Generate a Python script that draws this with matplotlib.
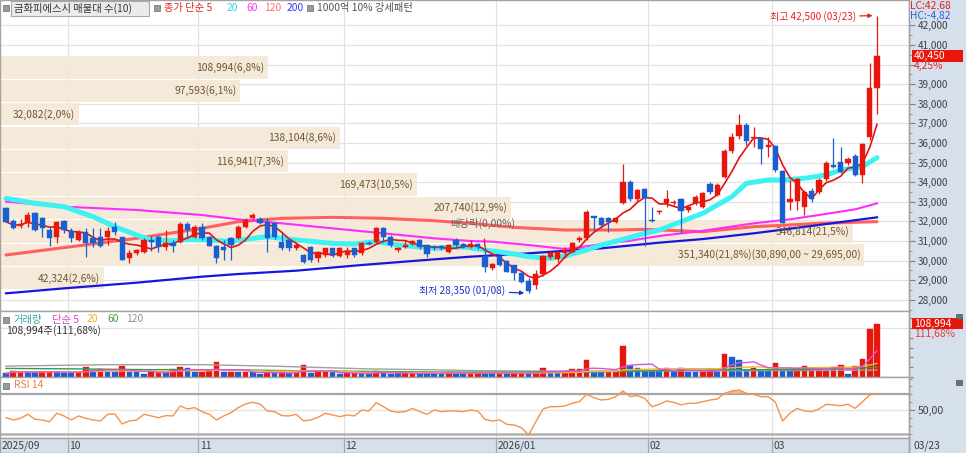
import numpy as np
import pandas as pd
import matplotlib
matplotlib.use("Agg")
import matplotlib.pyplot as plt
from matplotlib.patches import Rectangle
from matplotlib.transforms import blended_transform_factory

plt.rcParams['font.family'] = ['Noto Sans CJK KR', 'DejaVu Sans']

# ---------------- data ----------------
opens = [32666, 32037, 31765, 31935, 32411, 32156, 31561, 31221, 32020, 31527,
         31051, 31476, 31136, 31221, 31187, 31731, 31187, 30115, 30405, 30456,
         31051, 31221, 30711, 30881, 30966, 31850, 31221, 31731, 31187, 30745,
         30711, 31136, 31136, 31731, 32156, 32105, 31986, 31901, 30966, 31051,
         30626, 30285, 30711, 30115, 30285, 30626, 30251, 30285, 30626, 30371,
         30915, 30966, 31646, 31221, 30540, 30677, 30847, 31051, 30796, 30711,
         30745, 30456, 31051, 30830, 30677, 30830, 30235, 29605, 30235, 29980,
         29775, 29350, 28976, 28755, 29316, 30200, 30065, 30371, 30456, 31051,
         31136, 32276, 32156, 32156, 31986, 32956, 34027, 33126, 33636, 32071,
         32463, 32956, 32922, 33126, 32582, 32922, 32752, 33908, 33347, 34282,
         35609, 36357, 36918, 36238, 36238, 35813, 35847, 34589, 33007, 33058,
         32752, 33568, 33517, 34147, 34878, 35048, 34963, 35354, 34368, 36323,
         38800]
highs = [32750, 32100, 32105, 32462, 32460, 32200, 31731, 32020, 32070, 31640,
         31560, 31640, 31640, 31640, 31731, 31986, 31220, 30540, 30600, 31136,
         31250, 31300, 31561, 31051, 31986, 31986, 31800, 31901, 31250, 30800,
         31051, 31200, 31800, 32150, 32420, 32200, 32150, 31950, 31400, 31100,
         30900, 30330, 30750, 30500, 30660, 30660, 30700, 30711, 30660, 30966,
         31000, 31731, 31731, 31306, 30711, 31051, 31051, 31100, 30850, 30796,
         30800, 30850, 31136, 30900, 31051, 30900, 30700, 29900, 30300, 30050,
         29800, 29400, 29100, 29520, 30300, 30500, 30550, 30711, 30950, 31250,
         32600, 32300, 32200, 32200, 32200, 34929, 34100, 33650, 33700, 32752,
         32560, 33602, 33100, 33200, 32850, 33350, 33500, 34000, 33950, 35700,
         36500, 37480, 37000, 36833, 36300, 36300, 35900, 34620, 34113, 34200,
         33600, 33700, 34200, 35100, 36238, 35779, 35300, 35450, 36000, 40065,
         42500]
lows = [31950, 31600, 31646, 31731, 31500, 31221, 30745, 30881, 31390, 30966,
        31000, 30200, 30711, 30711, 30796, 31306, 30031, 29860, 30300, 30371,
        30500, 30456, 30540, 30456, 30881, 31221, 31150, 31051, 30745, 29860,
        30031, 30031, 31100, 31650, 32100, 31850, 30456, 31100, 30540, 30500,
        30540, 29900, 29945, 29940, 30200, 30200, 30200, 30115, 30200, 30300,
        30800, 30900, 30966, 30711, 30456, 30626, 30800, 30600, 30200, 30540,
        30540, 30400, 30711, 30650, 30626, 30600, 29435, 29500, 29700, 29400,
        29010, 28850, 28350, 28535, 29200, 30100, 29950, 30116, 30400, 30966,
        31050, 31500, 31650, 31480, 31900, 32900, 33050, 33050, 30745, 31990,
        32400, 32752, 32850, 31391, 32500, 32850, 32700, 33400, 33300, 34200,
        35500, 36200, 35900, 35813, 34929, 35300, 34500, 31901, 32582, 32600,
        32327, 33000, 33400, 34050, 34750, 34450, 34900, 34300, 33943, 36153,
        37480]
closes = [31986, 31646, 31850, 32326, 31561, 31646, 31136, 31986, 31561, 31136,
          31476, 30881, 30881, 30745, 31527, 31476, 30031, 30405, 30540, 31051,
          30932, 30711, 30881, 30745, 31850, 31561, 31731, 31136, 30745, 30115,
          30540, 30796, 31731, 32071, 32326, 31901, 31136, 31221, 30626, 30626,
          30796, 29945, 30031, 30456, 30626, 30285, 30660, 30456, 30285, 30881,
          30847, 31680, 31221, 30796, 30620, 30796, 31017, 30711, 30336, 30626,
          30626, 30796, 30796, 30711, 30830, 30677, 29690, 29810, 29775, 29435,
          29350, 28925, 28466, 29316, 30235, 30371, 30456, 30541, 30881, 31136,
          32497, 32156, 31816, 31986, 32156, 34027, 33126, 33602, 33177, 32020,
          32531, 33126, 33007, 32548, 32752, 33262, 33432, 33517, 33857, 35609,
          36289, 36918, 36119, 36323, 35677, 35898, 34622, 31901, 33126, 34147,
          33517, 33126, 34113, 34963, 34793, 34538, 35184, 34368, 35949, 38800,
          40450]
volumes = [6900, 12300, 10300, 10300, 8900, 10300, 10300, 10300, 8200, 8200,
           8900, 20600, 14300, 15100, 10300, 8900, 22600, 8900, 8900, 5500,
           10300, 10300, 8200, 15100, 20600, 18500, 8900, 8900, 11700, 29500,
           8900, 10300, 10300, 10300, 8900, 4800, 8900, 8900, 8900, 6900,
           6900, 24000, 6900, 10300, 10300, 8900, 4800, 6900, 6900, 6900,
           6900, 11700, 8200, 5500, 6900, 6900, 6900, 6900, 6900, 6900,
           6900, 8900, 6900, 6900, 6900, 6900, 7500, 7500, 7500, 7500,
           7500, 6900, 7500, 8900, 18500, 8900, 6900, 12300, 15100, 15100,
           34300, 10300, 9300, 9500, 9700, 62300, 24700, 17800, 12300, 12000,
           10900, 17800, 10900, 17800, 9500, 9300, 9500, 14400, 9500, 47300,
           40400, 33500, 14400, 17800, 14400, 14000, 28000, 16000, 15500, 10900,
           21200, 17800, 16000, 14400, 19100, 23200, 4800, 21200, 37000, 97596,
           108994]
# volume bar colour as shown (1 = red, 0 = blue)
vol_up = [0, 1, 1, 0, 0, 1, 1, 0, 0, 0,
          1, 1, 0, 1, 0, 0, 1, 0, 0, 0,
          1, 1, 0, 1, 1, 0, 0, 1, 1, 1,
          0, 1, 0, 1, 0, 0, 1, 0, 1, 0,
          1, 1, 0, 1, 1, 0, 0, 1, 1, 0,
          0, 1, 0, 0, 0, 1, 1, 0, 0, 0,
          0, 1, 0, 0, 1, 1, 0, 0, 1, 0,
          1, 1, 0, 1, 1, 0, 0, 1, 1, 1,
          1, 0, 0, 1, 1, 1, 0, 0, 0, 0,
          0, 1, 0, 1, 0, 0, 1, 1, 0, 1,
          0, 0, 0, 1, 0, 0, 1, 0, 0, 1,
          1, 1, 1, 1, 1, 1, 0, 1, 1, 1,
          1]
rsi14 = [40.2, 37.3, 39.4, 44.5, 38.1, 37.3, 35.1, 45.8, 42.4, 37.3,
         42.4, 39.4, 37.3, 36.0, 44.5, 44.9, 32.2, 36.0, 37.3, 44.5,
         42.4, 40.2, 42.8, 42.4, 55.1, 51.3, 53.0, 47.9, 44.5, 37.3,
         42.4, 46.6, 53.0, 57.6, 59.8, 57.6, 48.7, 47.9, 42.8, 42.4,
         44.5, 36.0, 37.3, 40.7, 45.8, 43.6, 41.5, 43.6, 42.4, 50.0,
         48.7, 59.3, 54.2, 48.7, 47.0, 47.9, 52.1, 47.9, 44.5, 50.0,
         47.9, 48.7, 48.7, 47.9, 50.0, 48.7, 38.0, 36.0, 37.3, 31.7,
         30.9, 27.5, 18.2, 35.1, 51.3, 54.2, 54.2, 55.1, 58.5, 60.6,
         70.0, 65.7, 62.7, 63.6, 67.0, 74.2, 67.0, 68.3, 64.9, 54.2,
         57.2, 61.5, 59.8, 56.4, 58.5, 58.5, 60.6, 62.7, 64.0, 71.2,
         74.2, 75.5, 71.2, 70.0, 67.0, 67.0, 60.0, 36.0, 45.8, 52.1,
         48.7, 47.9, 51.3, 57.2, 56.4, 55.5, 57.2, 52.1, 60.6, 69.1,
         71.2]

# moving averages at selected candles
ma20_idx = [0, 4, 8, 12, 15, 18, 20, 23, 25, 28, 31, 34, 36, 40, 45, 48, 51, 54, 59, 63,
            66, 70, 72, 75, 77, 80, 82, 85, 88, 90, 93, 96, 100, 102, 105, 107, 110, 113, 115, 118, 120]
ma20 = [33177, 32921, 32751, 32241, 31731, 31306, 31051, 31017, 31085, 31051, 30966, 31136, 31221,
        31051, 30881, 30847, 30966, 30796, 30626, 30700, 30541, 30337, 30201, 30116, 30235, 30541,
        30796, 31085, 31391, 31561, 31987, 32412, 33262, 33942, 34113, 34113, 34198, 34368, 34623,
        34793, 35252]
ma60_idx = [0, 8, 18, 27, 32, 38, 45, 52, 59, 64, 67, 72, 77, 79, 82, 86, 90, 96, 103, 108, 112, 117, 120]
ma60 = [33007, 32751, 32582, 32326, 32105, 31901, 31646, 31391, 31136, 31000, 30966, 30796, 30592,
        30677, 30847, 31017, 31255, 31520, 31902, 32106, 32327, 32616, 32922]
ma120_idx = [0, 9, 18, 27, 32, 38, 45, 52, 59, 64, 70, 77, 84, 88, 96, 103, 108, 112, 120]
ma120 = [30286, 30711, 31136, 31646, 31986, 32156, 32207, 32156, 32037, 31900, 31697, 31561,
         31561, 31595, 31476, 31731, 31817, 31902, 31987]
ma200_idx = [0, 8, 18, 27, 32, 40, 49, 59, 64, 72, 82, 90, 96, 103, 112, 120]
ma200 = [28330, 28585, 28874, 29180, 29316, 29486, 29775, 30065, 30200, 30371, 30626, 30915,
         31100, 31391, 31817, 32208]
vma60_idx = [0, 10, 20, 30, 40, 50, 60, 70, 80, 90, 100, 110, 120]
vma60 = [17000, 16000, 14400, 14400, 12300, 10900, 9500, 9500, 9500, 12300, 14400, 14400, 19100]
vma120_idx = [0, 14, 27, 38, 50, 58, 65, 80, 100, 120]
vma120 = [21800, 24700, 24700, 21200, 16000, 14400, 12300, 11500, 12000, 13500]

# volume-by-price (10 bands, bottom -> top)
band_low, band_high = 28500, 40450
band_vols = [42324, 351340, 346814, 207740, 169473, 116941, 138104, 32082, 97593, 108994]

month_idx = [0, 9, 27, 47, 68, 89, 106]
month_lbl = ['2025/09', '10', '11', '12', '2026/01', '02', '03']
last_date = '03/23'
high_date = '03/23'
low_date = '01/08'
exdiv_idx = 66
exdiv_txt = '배당락(0,00%)'

# ---------------- layout ----------------
W, H = 966, 453
fig = plt.figure(figsize=(W / 100, H / 100), dpi=100)
BG = '#d6dfec'
fig.patch.set_facecolor(BG)
PR = 909


def rect_px(x0, y0, x1, y1):
    return [x0 / W, 1 - y1 / H, (x1 - x0) / W, (y1 - y0) / H]


ax = fig.add_axes(rect_px(0, 0, PR, 311))
axv = fig.add_axes(rect_px(0, 311, PR, 376.7))
axr = fig.add_axes(rect_px(0, 376.7, PR, 438))
axd = fig.add_axes(rect_px(0, 438, PR, 453))

XL = (-0.827, 124.41)
for a in (ax, axv, axr, axd):
    a.set_xlim(*XL)
    a.set_xticks([])
    for s in a.spines.values():
        s.set_color('#a3a3a3')
        s.set_linewidth(1.0)
for a in (ax, axv, axr):
    a.set_facecolor('white')
axd.set_facecolor(BG)
axd.set_yticks([])

RED = '#e8170c'
BLUE = '#1a5fd0'
GRID = '#e2e2e2'
TXT = '#404040'

o = np.array(opens, float)
h = np.array(highs, float)
l = np.array(lows, float)
c = np.array(closes, float)
v = np.array(volumes, float)
x = np.arange(len(c))

# month grid lines
for a in (ax, axv, axr):
    for mi in month_idx[1:]:
        a.axvline(mi - 0.5, color=GRID, lw=0.9, zorder=0.5)
for mi in month_idx[1:]:
    axd.axvline(mi - 0.5, color='#a8a8a8', lw=0.9)

# ---------------- price pane ----------------
ax.set_ylim(27429, 43296)
ticks = np.arange(28000, 42001, 1000)
ax.set_yticks(ticks)
# the tick label just under the last-price box is covered by the change label
ax.set_yticklabels(['' if (0 < c[-1] - t < 800) else f'{int(t):,}' for t in ticks])
ax.set_yticks(np.arange(27500, 43001, 500), minor=True)
ax.yaxis.tick_right()
ax.tick_params(axis='y', which='major', direction='out', length=4, color='#808080',
               labelsize=7.2, labelcolor=TXT, pad=2)
ax.tick_params(axis='y', which='minor', direction='out', length=2, color='#808080')
ax.grid(axis='y', which='major', color=GRID, lw=0.9, zorder=0)
ax.set_axisbelow(True)

# volume-by-price bars
tb = blended_transform_factory(ax.transAxes, ax.transData)
bw = (band_high - band_low) / len(band_vols)
tot = sum(band_vols)
vmax = max(band_vols)
for k, bv in enumerate(band_vols):
    lo = band_low + k * bw
    hi = lo + bw
    frac = bv / vmax * 0.9505
    ax.add_patch(Rectangle((0, lo + 30), frac, bw - 60, transform=tb,
                           facecolor='#f5e8d6', edgecolor='none', alpha=0.92, zorder=1))
    s = f'{bv:,}({bv / tot * 100:.1f}%)'.replace('.', ',')
    if bv == vmax:
        s += f'({hi:,.2f} ~ {lo:,.2f})'.replace('.', ',')
    ax.text(frac - 0.004, (lo + hi) / 2, s, transform=tb, ha='right', va='center',
            fontsize=7.4, color='#6f5630', zorder=6)

# moving averages
ax.plot(ma120_idx, ma120, color='#ff5f5f', lw=2.2, zorder=2, solid_capstyle='round')
ax.plot(ma200_idx, ma200, color='#1616dd', lw=1.6, zorder=2)
ax.plot(ma60_idx, ma60, color='#ff2cff', lw=1.5, zorder=2)
ax.plot(ma20_idx, ma20, color='#3ef2f2', lw=3.6, zorder=2, solid_capstyle='round')
ma5 = pd.Series(c).rolling(5, min_periods=1).mean()
ax.plot(x, ma5, color='#e81010', lw=1.2, zorder=3)

# candles
up = c >= o
col = np.where(up, RED, BLUE)
ax.vlines(x, l, h, colors=col, lw=0.9, zorder=4)
body = np.maximum(np.abs(c - o), 45)
ax.bar(x, body, bottom=np.minimum(o, c), width=0.72, color=col, edgecolor=col,
       linewidth=0.3, zorder=5)

# annotations
hi_i = int(np.argmax(h))
lo_i = int(np.argmin(l))
ax.annotate(f'최고 {int(h[hi_i]):,} ({high_date})', xy=(hi_i - 0.6, h[hi_i]),
            xytext=(-17, -1.5), textcoords='offset pixels', ha='right', va='center',
            fontsize=7.2, color='#e82020',
            arrowprops=dict(arrowstyle='-|>', color='#e82020', lw=0.9, mutation_scale=6,
                            shrinkA=1, shrinkB=0), zorder=7)
ax.annotate(f'최저 {int(l[lo_i]):,} ({low_date})', xy=(lo_i - 0.6, l[lo_i]),
            xytext=(-19, 2), textcoords='offset pixels', ha='right', va='center',
            fontsize=7.2, color='#1535d0',
            arrowprops=dict(arrowstyle='-|>', color='#1535d0', lw=0.9, mutation_scale=6,
                            shrinkA=1, shrinkB=0), zorder=7)
ax.annotate(exdiv_txt, xy=(exdiv_idx, h[exdiv_idx]), xytext=(-2, 23),
            textcoords='offset pixels', ha='center', va='center', fontsize=7.4,
            color='#606060',
            arrowprops=dict(arrowstyle='-', color='#e02020', lw=1.0, shrinkA=5, shrinkB=0),
            zorder=7)

# ---------------- volume pane ----------------
axv.set_ylim(0, 135000)
axv.yaxis.tick_right()
axv.set_yticks(np.arange(0, 130001, 20000))
axv.set_yticklabels([])
axv.tick_params(axis='y', direction='out', length=3, color='#808080')
axv.axhline(100000, color=GRID, lw=0.9, zorder=0.5)
vcol = np.where(np.array(vol_up) == 1, RED, BLUE)
axv.bar(x, v, width=0.78, color=vcol, edgecolor=vcol, linewidth=0.3, zorder=3)
axv.plot(vma120_idx, vma120, color='#a0a0a0', lw=1.0, zorder=4)
axv.plot(vma60_idx, vma60, color='#2fa04a', lw=1.0, zorder=4)
axv.plot(x, pd.Series(v).rolling(20, min_periods=1).mean(), color='#f2b233', lw=1.0, zorder=4)
axv.plot(x, pd.Series(v).rolling(5, min_periods=1).mean(), color='#e050dc', lw=1.0, zorder=4)

# ---------------- RSI pane ----------------
r = np.array(rsi14)
axr.set_ylim(14.3, 92.4)
axr.yaxis.tick_right()
axr.set_yticks([50])
axr.set_yticklabels(['50,00'])
axr.set_yticks(np.arange(20, 91, 10), minor=True)
axr.tick_params(axis='y', which='major', direction='out', length=4, color='#808080',
                labelsize=7.6, labelcolor=TXT, pad=2)
axr.tick_params(axis='y', which='minor', direction='out', length=2, color='#808080')
axr.axhline(50, color='#e4e4e4', lw=1.0, zorder=0.5)
axr.axhline(70, color='#a6a6a6', lw=1.6, zorder=1)
axr.axhline(20, color='#b0b0b0', lw=1.8, zorder=1)
axr.fill_between(x, r, 70, where=r > 70, interpolate=True, color='#f0a070', alpha=0.7,
                 lw=0, zorder=2)
axr.plot(x, r, color='#f5924a', lw=1.0, zorder=3)


# ---------------- text / labels ----------------
def ftxt(xp, yp, s, **kw):
    kw.setdefault('va', 'center')
    kw.setdefault('ha', 'left')
    return fig.text(xp / W, 1 - yp / H, s, **kw)


def fsq(xp, yp, size=6, fc='#9a9a9a'):
    fig.add_artist(Rectangle((xp / W, 1 - (yp + size / 2) / H), size / W, size / H,
                             transform=fig.transFigure, facecolor=fc,
                             edgecolor='#6a6a6a', lw=0.5))


# top legend
fsq(3, 8)
fig.add_artist(Rectangle((11 / W, 1 - 15.5 / H), 138 / W, 14.5 / H, transform=fig.transFigure,
                         facecolor='#ebebeb', edgecolor='#a8a8a8', lw=0.8))
ftxt(14, 8, '금화피에스시 매물대 수(10)', fontsize=7.4, color='#333333')
fsq(154, 8)
ftxt(164, 8, '종가 단순 5', fontsize=7.4, color='#e82020')
ftxt(227, 8, '20', fontsize=7.4, color='#22d6f0')
ftxt(246, 8, '60', fontsize=7.4, color='#ff30ff')
ftxt(264, 8, '120', fontsize=7.4, color='#ff6a6a')
ftxt(287, 8, '200', fontsize=7.4, color='#3535f5')
fsq(307, 8)
ftxt(317, 8, '1000억 10% 강세패턴', fontsize=7.4, color='#505050')

# volume legend
fsq(3, 319.5)
ftxt(14, 319.5, '거래량', fontsize=7.4, color='#3aa0a8')
ftxt(52, 319.5, '단순 5', fontsize=7.4, color='#e040d0')
ftxt(87, 319.5, '20', fontsize=7.4, color='#f0b020')
ftxt(107, 319.5, '60', fontsize=7.4, color='#30a050')
ftxt(126, 319.5, '120', fontsize=7.4, color='#909090')
vchg = v[-1] / v[-2] * 100
ftxt(6, 331, f'{int(v[-1]):,}주({vchg:.2f}%)'.replace('.', ','), fontsize=7.4, color='#303030')

# RSI legend
fsq(3, 385.5)
ftxt(14, 385.5, 'RSI 14', fontsize=7.4, color='#f08040')

# right-panel info
lc = (c[-1] - l.min()) / l.min() * 100
hc = (c[-1] - h.max()) / h.max() * 100
pchg = (c[-1] / c[-2] - 1) * 100
ftxt(910, 6, f'LC:{lc:.2f}'.replace('.', ','), fontsize=7.4, color='#e82020',
     bbox=dict(facecolor=BG, edgecolor='none', pad=0.3))
ftxt(910, 15.5, f'HC:{hc:.2f}'.replace('.', ','), fontsize=7.4, color='#2a62e0',
     bbox=dict(facecolor=BG, edgecolor='none', pad=0.3))

fig.canvas.draw()


def top_px(axis, yv):
    return H - axis.transData.transform((0, yv))[1]


yc = top_px(ax, c[-1])
fig.add_artist(Rectangle((912 / W, 1 - (yc + 6) / H), 51 / W, 12 / H, transform=fig.transFigure,
                         facecolor='#e8170c', edgecolor='none', zorder=5))
ftxt(914, yc, f'{int(c[-1]):,}', fontsize=7.4, color='white', zorder=6)
ftxt(914, yc + 10.5, f'{pchg:.2f}%'.replace('.', ','), fontsize=7.4, color='#e82020', zorder=6)

yv = top_px(axv, v[-1])
fig.add_artist(Rectangle((912 / W, 1 - (yv + 5.5) / H), 51 / W, 11 / H, transform=fig.transFigure,
                         facecolor='#e8170c', edgecolor='none'))
ftxt(914, yv, f'{int(v[-1]):,}', fontsize=7.4, color='white')
ftxt(914, yv + 10.5, f'{vchg:.2f}%'.replace('.', ','), fontsize=7.4, color='#e04040')

# small pane icons
for yy in (314, 379.5):
    fig.add_artist(Rectangle((956 / W, 1 - (yy + 5) / H), 6 / W, 5 / H, transform=fig.transFigure,
                             facecolor='#707070', edgecolor='#505050', lw=0.5))

# date bar labels
for mi, lb in zip(month_idx, month_lbl):
    if mi == 0:
        xp = 2
    else:
        xp = ax.transData.transform((mi - 0.5, 0))[0] + 1.5
    ftxt(xp, 446, lb, fontsize=7.4, color=TXT)
ftxt(913, 446, last_date, fontsize=7.4, color=TXT)
fig.add_artist(plt.Line2D([PR / W, PR / W], [0, 1], transform=fig.transFigure,
                          color='#a3a3a3', lw=1.0))

fig.savefig('out.png', dpi=100, facecolor=fig.get_facecolor())
